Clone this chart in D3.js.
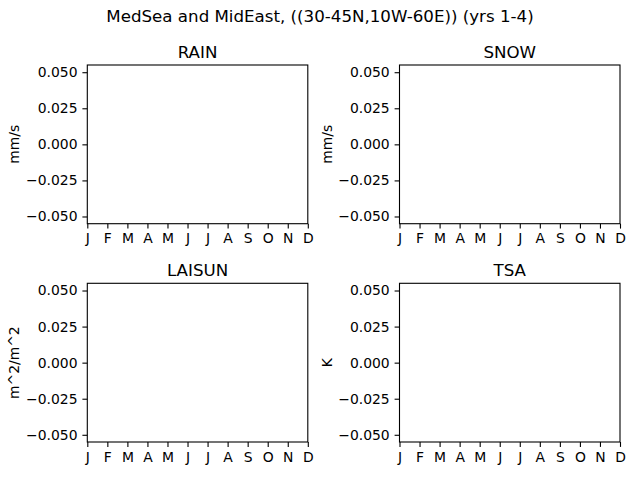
<!DOCTYPE html>
<html>
<head>
<meta charset="utf-8">
<script src="https://cdn.jsdelivr.net/npm/d3@7"></script>
<style>
  body { margin: 0; background: #fff; }
  text { font-family: "DejaVu Sans", sans-serif; fill: #000; }
</style>
</head>
<body>
<div id="chart"></div>
<script>
const chartTitle = "MedSea and MidEast, ((30-45N,10W-60E)) (yrs 1-4)";
const months = ["J", "F", "M", "A", "M", "J", "J", "A", "S", "O", "N", "D"];
const panelNames = ["RAIN", "SNOW", "LAISUN", "TSA"];
const panelUnits = ["mm/s", "mm/s", "m^2/m^2", "K"];
const yTicks = [-0.05, -0.025, 0, 0.025, 0.05];
const yDomain = [-0.055, 0.055];

const width = 640, height = 480;
const cols = [87.3, 399.5], rows = [65, 283.3];
const pw = 220.5, ph = 158.7;

const svg = d3.select("#chart").append("svg")
  .attr("width", width).attr("height", height);

svg.append("text")
  .attr("x", 320).attr("y", 22)
  .attr("text-anchor", "middle")
  .style("font-size", "16.67px")
  .text(chartTitle);

const fmt = d3.format(".3f");

panelNames.forEach((name, i) => {
  const left = cols[i % 2], top = rows[Math.floor(i / 2)];
  const g = svg.append("g").attr("transform", `translate(${left},${top})`);

  const x = d3.scaleLinear().domain([0, months.length - 1]).range([0, pw]);
  const y = d3.scaleLinear().domain(yDomain).range([ph, 0]);

  const xAxis = d3.axisBottom(x)
    .tickValues(d3.range(months.length))
    .tickFormat(d => months[d])
    .tickSize(4.9).tickPadding(4.9);
  const yAxis = d3.axisLeft(y)
    .tickValues(yTicks)
    .tickFormat(fmt)
    .tickSize(4.9).tickPadding(4.9);

  const gx = g.append("g").attr("transform", `translate(0,${ph})`).call(xAxis);
  const gy = g.append("g").call(yAxis);
  [gx, gy].forEach(a => {
    a.select(".domain").remove();
    a.selectAll("line").attr("stroke", "#000").attr("stroke-width", 1.1);
    a.selectAll("text").style("font-size", "13.9px").attr("fill", "#000")
      .style("font-family", "DejaVu Sans");
  });

  g.append("rect")
    .attr("width", pw).attr("height", ph)
    .attr("fill", "none").attr("stroke", "#000").attr("stroke-width", 1.1);

  g.append("text")
    .attr("x", pw / 2).attr("y", -7)
    .attr("text-anchor", "middle")
    .style("font-size", "16.67px")
    .text(name);

  g.append("text")
    .attr("transform", `translate(${-68},${ph / 2}) rotate(-90)`)
    .attr("text-anchor", "middle")
    .style("font-size", "13.9px")
    .text(panelUnits[i]);
});
</script>
</body>
</html>
